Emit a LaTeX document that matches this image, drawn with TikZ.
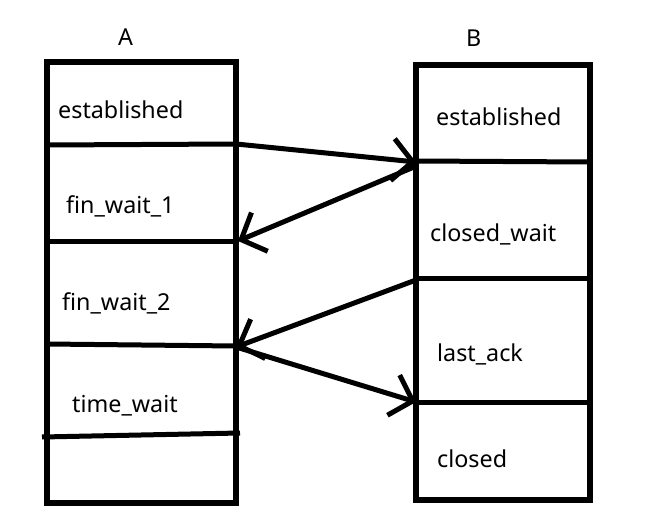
\documentclass[tikz,border=0pt]{standalone}
\usepackage{fontspec}
\setmainfont{Noto Sans}
\usetikzlibrary{arrows.meta}
\begin{document}
\begin{tikzpicture}[x=1pt,y=-1pt,
  box/.style={line width=5.5pt},
  divider/.style={line width=5pt},
  lbl/.style={anchor=base west,inner sep=0pt,font=\fontsize{23.3}{26}\selectfont},
  msg/.style={line width=5pt,-{Straight Barb[length=20pt,width=42pt,line width=5pt]}}]
\useasboundingbox (0,0) rectangle (648,532);
% boxes
\draw[box] (47,62) rectangle (236,503);
\draw[box] (416,65) rectangle (590,500);
% dividers A
\coordinate (a1) at (236,144);
\coordinate (a2) at (238,241);
\coordinate (a3) at (236,347);
\draw[divider] (47,145) -- (a1);
\draw[divider] (44,241) -- (236,241);
\draw[divider] (47,344) -- (236,346);
\draw[divider] (42,437) -- (240,433);
% dividers B
\coordinate (b1) at (416,162);
\coordinate (b2) at (416,280);
\coordinate (b3) at (416,402);
\coordinate (b1s) at (414,167);
\draw[divider] (416,161) -- (590,162);
\draw[divider] (416,278) -- (590,278);
\draw[divider] (416,402) -- (587,402);
% titles
\node[lbl] (ta) at (118,46) {A};
\node[lbl] (tb) at (466,47) {B};
% states A
\node[lbl] (sa1) at (58,119) {established};
\node[lbl] (sa2) at (66,213) {fin\_wait\_1};
\node[lbl] (sa3) at (62,310) {fin\_wait\_2};
\node[lbl] (sa4) at (72,412) {time\_wait};
% states B
\node[lbl] (sb1) at (436,126) {established};
\node[lbl] (sb2) at (430,241) {closed\_wait};
\node[lbl] (sb3) at (437,361) {last\_ack};
\node[lbl] (sb4) at (437,467) {closed};
% messages
\draw[msg] (a1) -- (b1);
\draw[msg] (b1s) -- (a2);
\draw[msg] (b2) -- (a3);
\draw[msg] (a3) -- (b3);
\end{tikzpicture}
\end{document}
